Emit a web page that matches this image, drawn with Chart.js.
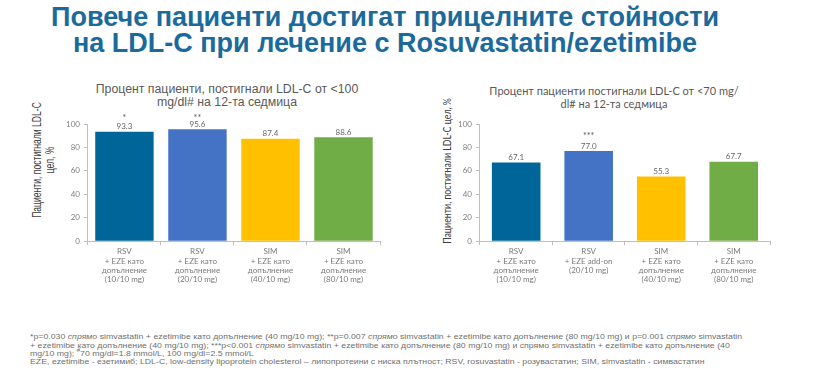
<!DOCTYPE html>
<html lang="bg">
  <head>
    <meta charset="utf-8" />
    <title>Rosuvastatin/ezetimibe LDL-C</title>
    <style>
      * {
        margin: 0;
        padding: 0;
      }
      body {
        width: 821px;
        height: 373px;
        background: #fff;
        position: relative;
        overflow: hidden;
        font-family: "Liberation Sans", Arial, sans-serif;
      }
      .mainTitle {
        position: absolute;
        left: 0;
        top: 4px;
        width: 770px;
        text-align: center;
        color: #1b6a9c;
        font-weight: bold;
        font-size: 27px;
        line-height: 26px;
      }
      .box {
        position: absolute;
        top: 78px;
        height: 212px;
      }
      #leftBox {
        left: 26px;
        width: 364px;
      }
      #rightBox {
        left: 436px;
        width: 342px;
      }
      .chartTitle {
        position: absolute;
        transform: translateX(-50%);
        text-align: center;
        white-space: nowrap;
        color: #595959;
      }
      .yTitle {
        position: absolute;
        text-align: center;
        white-space: nowrap;
        color: #404040;
      }
      .notes {
        position: absolute;
        left: 30px;
        top: 333px;
        font-size: 8.75px;
        line-height: 10.8px;
        color: #6f6f6f;
        white-space: nowrap;
        transform: scaleY(0.78);
        transform-origin: 0 0;
      }
      .notes .hash {
        font-size: 6px;
        vertical-align: top;
        line-height: 0;
      }
    </style>
  </head>
  <body>
    <div class="mainTitle">
      Повече пациенти достигат прицелните стойности<br />
      на LDL-C при лечение с Rosuvastatin/ezetimibe
    </div>

    <div class="chartTitle" style="left: 227px; top: 83px; font-size: 12.3px; line-height: 13px">
      Процент пациенти, постигнали LDL-C от &lt;100<br />mg/dl# на 12-та седмица
    </div>
    <div class="chartTitle" style="left: 614px; top: 84px; font-family: Lato; font-size: 11px; line-height: 13px">
      Процент пациенти постигнали LDL-C от &lt;70 mg/<br />dl# на 12-та седмица
    </div>

    <div class="yTitle" style="left: 43px; top: 160px; font-size: 13px; line-height: 13px; transform: translate(-50%, -50%) rotate(-90deg) scaleX(0.66)">
      Пациенти, постигнали LDL-C<br />цел, %
    </div>
    <div class="yTitle" style="left: 447px; top: 171px; font-family: Lato; font-size: 12px; line-height: 12px; transform: translate(-50%, -50%) rotate(-90deg) scaleX(0.73)">
      Пациенти, постигнали LDL-C цел, %
    </div>

    <div class="box" id="leftBox"><canvas id="leftChart"></canvas></div>
    <div class="box" id="rightBox"><canvas id="rightChart"></canvas></div>

    <div class="notes">
      *p=0.030 <i>спрямо</i> simvastatin + ezetimibe като допълнение (40 mg/10 mg); **p=0.007 <i>спрямо</i> simvastatin + ezetimibe като допълнение (80 mg/10 mg) и p=0.001 <i>спрямо</i> simvastatin<br />
      + ezetimibe като допълнение (40 mg/10 mg); ***p&lt;0.001 <i>спрямо</i> simvastatin + ezetimibe като допълнение (80 mg/10 mg) и спрямо simvastatin + ezetimibe като допълнение (40<br />
      mg/10 mg); <span class="hash">#</span>70 mg/dl=1.8 mmol/L, 100 mg/dl=2.5 mmol/L<br />
      EZE, ezetimibe - езетимиб; LDL-C, low-density lipoprotein cholesterol – липопротеини с ниска плътност; RSV, rosuvastatin - розувастатин; SIM, simvastatin - симвастатин
    </div>

    <script src="https://cdn.jsdelivr.net/npm/chart.js"></script>

    <script>
      // categories
      const leftLabels = [
        ["RSV", "+ EZE като", "допълнение", "(10/10 mg)"],
        ["RSV", "+ EZE като", "допълнение", "(20/10 mg)"],
        ["SIM", "+ EZE като", "допълнение", "(40/10 mg)"],
        ["SIM", "+ EZE като", "допълнение", "(80/10 mg)"],
      ];
      const rightLabels = [
        ["RSV", "+ EZE като", "допълнение", "(10/10 mg)"],
        ["RSV", "+ EZE add-on", "(20/10 mg)"],
        ["SIM", "+ EZE като", "допълнение", "(40/10 mg)"],
        ["SIM", "+ EZE като", "допълнение", "(80/10 mg)"],
      ];

      // series values (% patients at goal)
      const under100 = [93.3, 95.6, 87.4, 88.6];
      const under70 = [67.1, 77.0, 55.3, 67.7];

      // significance marks
      const leftStars = ["*", "**", "", ""];
      const rightStars = ["", "***", "", ""];

      const barColors = ["#00669a", "#4472c4", "#ffc000", "#70ad47"];

      // value labels and asterisks above the bars
      const barNotes = {
        id: "barNotes",
        afterDatasetsDraw(chart, args, opts) {
          const { ctx } = chart;
          const meta = chart.getDatasetMeta(0);
          const values = chart.data.datasets[0].data;
          const starY = chart.scales.y.getPixelForValue(opts.starLevel);
          ctx.save();
          ctx.textAlign = "center";
          ctx.textBaseline = "middle";
          meta.data.forEach((bar, i) => {
            ctx.fillStyle = "#666";
            ctx.font = "8px Lato";
            ctx.fillText(values[i].toFixed(1), bar.x, bar.y - 5);
            if (opts.stars[i]) {
              ctx.fillStyle = "#555";
              ctx.font = "9px Lato";
              ctx.fillText(opts.stars[i], bar.x, starY);
            }
          });
          ctx.restore();
        },
      };

      function makeChart(id, labels, values, opts) {
        return new Chart(document.getElementById(id), {
          type: "bar",
          data: {
            labels,
            datasets: [
              {
                data: values,
                backgroundColor: barColors,
                barPercentage: opts.barPct,
                categoryPercentage: 1,
              },
            ],
          },
          options: {
            responsive: true,
            maintainAspectRatio: false,
            animation: false,
            layout: { padding: opts.padding },
            plugins: {
              legend: { display: false },
              tooltip: { enabled: false },
              barNotes: { stars: opts.stars, starLevel: opts.starLevel },
            },
            scales: {
              x: {
                grid: {
                  display: true,
                  offset: true,
                  drawOnChartArea: false,
                  color: "#bfbfbf",
                  tickLength: 4,
                },
                border: { color: "#bfbfbf" },
                ticks: {
                  color: "#7a7a7a",
                  font: { family: "Lato", size: 8, lineHeight: 1.15 },
                  maxRotation: 0,
                  padding: 2,
                },
              },
              y: {
                min: 0,
                max: 100,
                ticks: {
                  stepSize: 20,
                  color: "#808080",
                  font: { family: "Lato", size: 8 },
                  padding: 4,
                },
                grid: {
                  display: true,
                  drawOnChartArea: false,
                  color: "#bfbfbf",
                  tickLength: 4,
                },
                border: { color: "#bfbfbf" },
              },
            },
          },
          plugins: [barNotes],
        });
      }

      makeChart("leftChart", leftLabels, under100, {
        barPct: 0.8,
        stars: leftStars,
        starLevel: 105,
        padding: { left: 36, right: 10, top: 46, bottom: 4 },
      });

      makeChart("rightChart", rightLabels, under70, {
        barPct: 0.67,
        stars: rightStars,
        starLevel: 89.5,
        padding: { left: 18, right: 8, top: 46, bottom: 4 },
      });
    </script>
  </body>
</html>
